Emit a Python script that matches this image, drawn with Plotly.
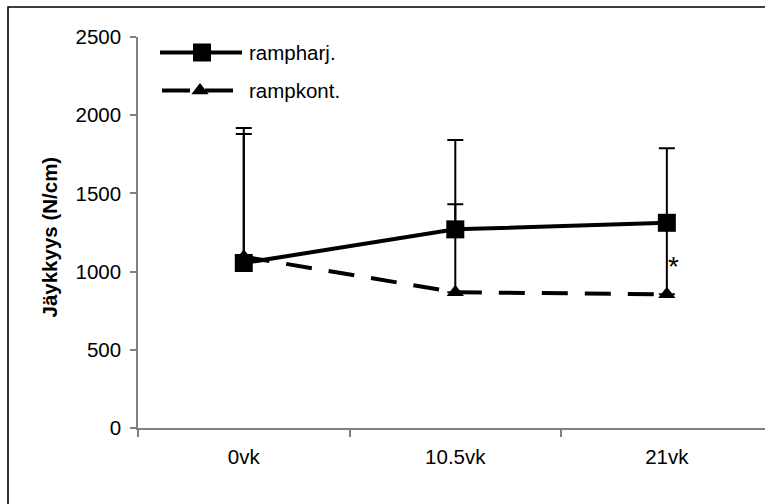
import plotly.graph_objects as go

# ---- data ----
categories = ["0vk", "10.5vk", "21vk"]
rampharj = [1055, 1270, 1312]
rampharj_err = [825, 571, 476]
rampkont = [1095, 868, 855]
rampkont_err = [823, 562, 455]
y_ticks = [0, 500, 1000, 1500, 2000, 2500]
series_names = ["rampharj.", "rampkont."]

FONT = "Liberation Sans, Arial, sans-serif"
W, H = 765, 504
ML, MR, MT, MB = 138, 0, 37, 76
PW, PH = W - ML - MR, H - MT - MB


def px_x(p):
    return (p - ML) / PW


def px_y(p):
    return (H - MB - p) / PH


fig = go.Figure()

fig.add_trace(go.Scatter(
    x=categories, y=rampharj, name=series_names[0], mode="lines+markers",
    line=dict(color="black", width=4),
    marker=dict(symbol="square", size=18, color="black"),
    error_y=dict(type="data", array=rampharj_err, arrayminus=[0, 0, 0],
                 color="black", thickness=2, width=8),
    showlegend=False, cliponaxis=False,
))
fig.add_trace(go.Scatter(
    x=categories, y=rampkont, name=series_names[1], mode="lines+markers",
    line=dict(color="black", width=4, dash="26px,17px"),
    marker=dict(symbol="triangle-up", size=15, color="black"),
    error_y=dict(type="data", array=rampkont_err, arrayminus=[0, 0, 0],
                 color="black", thickness=2, width=8),
    showlegend=False, cliponaxis=False,
))

# ---- custom legend (Excel-style long keys) on an overlay axis ----
leg_rows = [
    dict(x0=px_x(160), x1=px_x(242), xm=px_x(202), y=px_y(52.5),
         dash="solid", symbol="square", size=18, tx=px_x(247)),
    dict(x0=px_x(162), x1=px_x(233), xm=px_x(200), y=px_y(90.5),
         dash="28px,15px", symbol="triangle-up", size=15, tx=px_x(247)),
]
for name, r in zip(series_names, leg_rows):
    fig.add_trace(go.Scatter(
        x=[r["x0"], r["x1"]], y=[r["y"], r["y"]], xaxis="x2", yaxis="y2",
        mode="lines", line=dict(color="black", width=4, dash=r["dash"]),
        showlegend=False, hoverinfo="skip", cliponaxis=False,
    ))
    fig.add_trace(go.Scatter(
        x=[r["xm"]], y=[r["y"]], xaxis="x2", yaxis="y2", mode="markers",
        marker=dict(symbol=r["symbol"], size=r["size"], color="black"),
        showlegend=False, hoverinfo="skip", cliponaxis=False,
    ))
    fig.add_annotation(
        x=r["tx"], y=r["y"], xref="paper", yref="paper", text=name,
        showarrow=False, xanchor="left", yanchor="middle",
        font=dict(family=FONT, size=20.5, color="black"),
    )

# y-axis title
fig.add_annotation(
    x=px_x(49), y=px_y(237.5), xref="paper", yref="paper",
    text="<b>Jäykkyys (N/cm)</b>", textangle=-90, showarrow=False,
    xanchor="center", yanchor="middle",
    font=dict(family=FONT, size=20.5, color="black"),
)

# significance asterisk
fig.add_annotation(
    x=categories[2], y=1035, text="*", showarrow=False,
    xanchor="left", yanchor="middle", xshift=-1,
    font=dict(family=FONT, size=28, color="black"),
)

# outer chart border (extends past the cropped right/bottom edges)
fig.add_shape(type="rect", xref="paper", yref="paper",
              x0=px_x(8), x1=px_x(W + 20), y0=px_y(H + 20), y1=px_y(7),
              line=dict(color="black", width=1.6), layer="above")

fig.update_layout(
    width=W, height=H,
    margin=dict(l=ML, r=MR, t=MT, b=MB, pad=0),
    paper_bgcolor="white", plot_bgcolor="white",
    font=dict(family=FONT, size=20.5, color="black"),
    xaxis=dict(
        type="category", categoryorder="array", categoryarray=categories,
        range=[-0.5, 2.464], tickson="boundaries", ticks="outside",
        ticklen=7, tickwidth=1.5, tickcolor="#808080",
        showline=True, linecolor="#808080", linewidth=1.5,
        showgrid=False, zeroline=False, fixedrange=True,
        tickfont=dict(family=FONT, size=20.5, color="black"),
        ticklabelstandoff=10,
    ),
    yaxis=dict(
        range=[0, 2500], tickvals=y_ticks, ticks="outside", ticklen=6,
        tickwidth=1.5, tickcolor="#808080",
        showline=True, linecolor="#808080", linewidth=1.5,
        showgrid=False, zeroline=False, fixedrange=True,
        tickfont=dict(family=FONT, size=20.5, color="black"),
        ticklabelstandoff=5,
    ),
    xaxis2=dict(overlaying="x", range=[0, 1], visible=False, fixedrange=True),
    yaxis2=dict(overlaying="y", range=[0, 1], visible=False, fixedrange=True),
    showlegend=False,
)

fig.write_html("out.html")
